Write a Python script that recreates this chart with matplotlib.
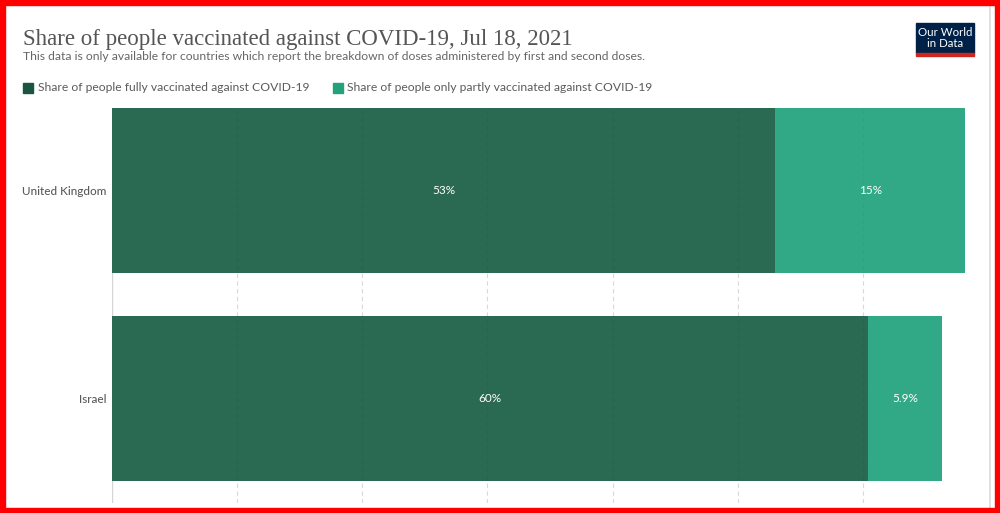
import matplotlib
matplotlib.use('Agg')
import matplotlib.pyplot as plt
from matplotlib.patches import Rectangle

countries = ['United Kingdom', 'Israel']
fully = [53.0, 60.4]
partly = [15.2, 5.9]
fully_labels = ['53%', '60%']
partly_labels = ['15%', '5.9%']
ticks = [0, 10, 20, 30, 40, 50, 60, 70]

c_full = '#2a6a53'
c_part = '#31a986'
c_full_leg = '#1b553f'
c_part_leg = '#24a07b'
grey = '#5b5b5b'

W, H = 1000, 513
fig = plt.figure(figsize=(W / 100, H / 100), dpi=100)
fig.patch.set_facecolor('white')

def px(x0, y0, x1, y1):
    # pixel box -> figure fraction rect
    return [x0 / W, 1 - y1 / H, (x1 - x0) / W, (y1 - y0) / H]

ax = fig.add_axes(px(112, 108, 988, 503))
ypos = list(range(len(countries)))
ax.barh(ypos, fully, height=0.795, color=c_full, zorder=2)
ax.barh(ypos, partly, left=fully, height=0.795, color=c_part, zorder=2)

for y, f, p, fl, pl in zip(ypos, fully, partly, fully_labels, partly_labels):
    ax.text(f / 2, y, fl, color='white', ha='center', va='center',
            fontsize=8.5, family='Lato', zorder=3)
    ax.text(f + p / 2, y, pl, color='white', ha='center', va='center',
            fontsize=8.5, family='Lato', zorder=3)

ax.set_xlim(0, 70)
ax.set_ylim(1.506, -0.399)
for t in ticks[1:-1]:
    ax.axvline(t, color='#e2e2e2', lw=0.8, ls=(0, (4, 3)), zorder=1)
    ax.axvline(t, color='black', lw=0.8, ls=(0, (4, 3)), alpha=0.04, zorder=2.5)
ax.axvline(0, color='#d5d5d5', lw=1, zorder=1)

ax.set_yticks(ypos)
ax.set_yticklabels(countries, family='Lato', fontsize=8.5, color=grey, fontweight='medium')
ax.set_xticks([])
ax.tick_params(axis='y', length=0, pad=4)
for s in ax.spines.values():
    s.set_visible(False)

# header
fig.text(23 / W, 1 - 45 / H, 'Share of people vaccinated against COVID-19, Jul 18, 2021',
         family='Liberation Serif', fontsize=16.5, color='#555555', va='baseline')
fig.text(23 / W, 1 - 60 / H,
         'This data is only available for countries which report the breakdown of doses administered by first and second doses.',
         family='Lato', fontsize=8.7, color='#666666', va='baseline')

# legend
fig.patches.append(Rectangle((23 / W, 1 - 93 / H), 10 / W, 10 / H, color=c_full_leg,
                             transform=fig.transFigure, figure=fig))
fig.text(38 / W, 1 - 87.5 / H, 'Share of people fully vaccinated against COVID-19',
         family='Lato', fontsize=8.7, color=grey, va='center')
fig.patches.append(Rectangle((333 / W, 1 - 93 / H), 10 / W, 10 / H, color=c_part_leg,
                             transform=fig.transFigure, figure=fig))
fig.text(347 / W, 1 - 87.5 / H, 'Share of people only partly vaccinated against COVID-19',
         family='Lato', fontsize=8.7, color=grey, va='center')

# logo
fig.patches.append(Rectangle((916 / W, 1 - 53 / H), 58 / W, 30 / H, color='#002147',
                             transform=fig.transFigure, figure=fig))
fig.patches.append(Rectangle((916 / W, 1 - 56 / H), 58 / W, 3 / H, color='#ce261e',
                             transform=fig.transFigure, figure=fig))
fig.text(945 / W, 1 - 38 / H, 'Our World\nin Data', family='Lato', fontsize=8.3,
         color='white', ha='center', va='center', linespacing=0.95)

# frame edge and red border
fig.add_artist(plt.Line2D([990 / W, 990 / W], [0, 1], color='#dcdcdc', lw=1.2,
                          transform=fig.transFigure))
for r in [px(0, 0, W, 5), px(0, 508, W, H), px(0, 0, 5, H), px(995, 0, W, H)]:
    fig.patches.append(Rectangle((r[0], r[1]), r[2], r[3], color='#ff0000',
                                 transform=fig.transFigure, figure=fig, zorder=10))

fig.savefig('out.png', dpi=100, facecolor='white')
